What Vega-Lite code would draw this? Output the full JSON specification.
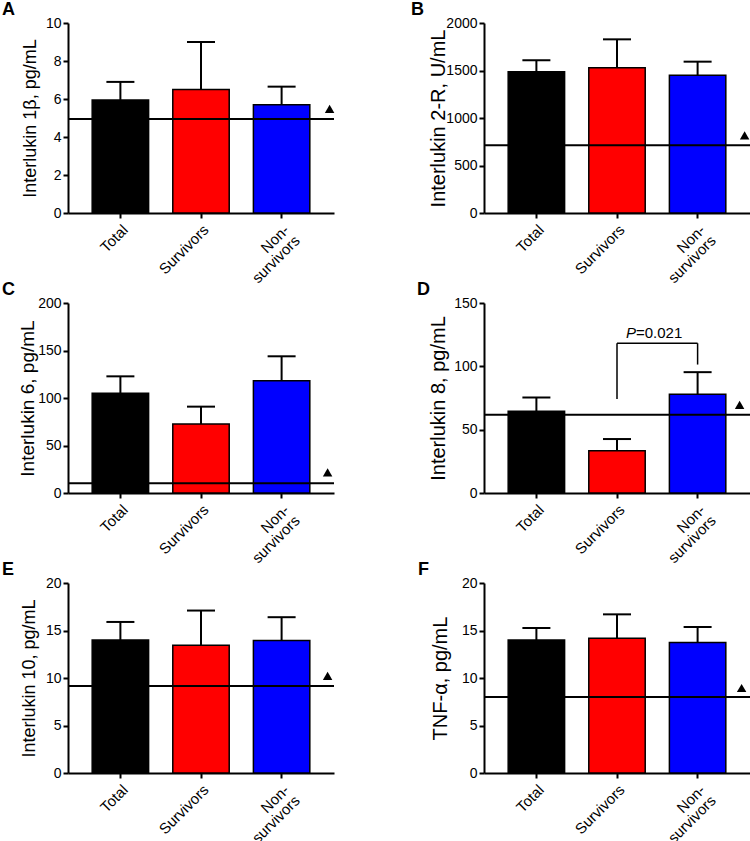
{
  "$schema": "https://vega.github.io/schema/vega-lite/v6.json",
  "autosize": {"type": "pad"},
  "padding": {"left": 2, "top": 1, "right": 0, "bottom": 0},
  "background": "white",
  "bounds": "flush",
  "columns": 2,
  "spacing": {"row": 90, "column": 150},
  "config": {
    "font": "Liberation Sans",
    "view": {"stroke": null},
    "axis": {"grid": false, "domainColor": "black", "domainWidth": 2, "tickColor": "black", "tickWidth": 2, "tickSize": 5, "labelColor": "black", "titleColor": "black", "labelFont": "Liberation Sans", "titleFont": "Liberation Sans", "labelFontSize": 14, "titleFontWeight": "normal", "labelPadding": 2, "labelOverlap": false},
    "axisX": {"labelAngle": -45, "labelFontSize": 15, "labelPadding": 4, "labelLineHeight": 15},
    "title": {"anchor": "start", "frame": "group", "fontSize": 18, "fontWeight": "bold", "font": "Liberation Sans", "color": "black", "baseline": "alphabetic", "offset": -3}
  },
  "concat": [
    {
      "width": 266, "height": 190,
      "title": {"text": "A", "dx": -66},
      "data": {"values": [
        {"group": "Total", "mean": 5.95, "upper": 6.9},
        {"group": "Survivors", "mean": 6.5, "upper": 9.0},
        {"group": "Non-survivors", "mean": 5.7, "upper": 6.65}
      ]},
      "layer": [
        {"mark": {"type": "bar", "stroke": "black", "strokeWidth": 1.5},
         "encoding": {
           "x": {"field": "group", "type": "nominal", "title": null, "scale": {"domain": ["Total", "Survivors", "Non-survivors"], "paddingInner": 0.3, "paddingOuter": 0.3}, "axis": {"labelExpr": "datum.value == 'Non-survivors' ? ['Non-', 'survivors'] : datum.value"}},
           "y": {"field": "mean", "type": "quantitative", "title": "Interlukin 1β, pg/mL", "scale": {"domain": [0, 10]}, "axis": {"values": [0, 2, 4, 6, 8, 10], "tickCount": 6, "labelOverlap": false, "titleFontSize": 18, "titlePadding": 6}},
           "fill": {"field": "group", "type": "nominal", "scale": {"domain": ["Total", "Survivors", "Non-survivors"], "range": ["#000000", "#ff0000", "#0000ff"]}, "legend": null}
         }},
        {"mark": {"type": "rule", "strokeWidth": 2, "color": "black"},
         "encoding": {"x": {"field": "group", "type": "nominal", "title": null}, "y": {"field": "mean", "type": "quantitative", "title": "Interlukin 1β, pg/mL", "scale": {"domain": [0, 10]}}, "y2": {"field": "upper"}}},
        {"mark": {"type": "tick", "size": 28, "thickness": 2, "color": "black", "opacity": 1},
         "encoding": {"x": {"field": "group", "type": "nominal", "title": null}, "y": {"field": "upper", "type": "quantitative", "title": "Interlukin 1β, pg/mL", "scale": {"domain": [0, 10]}}}},
        {"data": {"values": [{"ref": 4.95}]},
         "mark": {"type": "rule", "strokeWidth": 2, "color": "black"},
         "encoding": {"y": {"field": "ref", "type": "quantitative", "title": "Interlukin 1β, pg/mL", "scale": {"domain": [0, 10]}}}},
        {"data": {"values": [{"ref": 4.95}]},
         "mark": {"type": "point", "shape": "triangle-up", "filled": true, "color": "black", "opacity": 1, "size": 90, "xOffset": 48, "yOffset": -10},
         "encoding": {"x": {"datum": "Non-survivors", "type": "nominal", "title": null}, "y": {"field": "ref", "type": "quantitative", "title": "Interlukin 1β, pg/mL", "scale": {"domain": [0, 10]}}}}
      ]
    },
    {
      "width": 266, "height": 190,
      "title": {"text": "B", "dx": -73},
      "data": {"values": [
        {"group": "Total", "mean": 1487, "upper": 1607},
        {"group": "Survivors", "mean": 1530, "upper": 1828},
        {"group": "Non-survivors", "mean": 1449, "upper": 1593}
      ]},
      "layer": [
        {"mark": {"type": "bar", "stroke": "black", "strokeWidth": 1.5},
         "encoding": {
           "x": {"field": "group", "type": "nominal", "title": null, "scale": {"domain": ["Total", "Survivors", "Non-survivors"], "paddingInner": 0.3, "paddingOuter": 0.3}, "axis": {"labelExpr": "datum.value == 'Non-survivors' ? ['Non-', 'survivors'] : datum.value"}},
           "y": {"field": "mean", "type": "quantitative", "title": "Interlukin 2-R, U/mL", "scale": {"domain": [0, 2000]}, "axis": {"values": [0, 500, 1000, 1500, 2000], "format": "d", "titleFontSize": 20, "titlePadding": -3}},
           "fill": {"field": "group", "type": "nominal", "scale": {"domain": ["Total", "Survivors", "Non-survivors"], "range": ["#000000", "#ff0000", "#0000ff"]}, "legend": null}
         }},
        {"mark": {"type": "rule", "strokeWidth": 2, "color": "black"},
         "encoding": {"x": {"field": "group", "type": "nominal", "title": null}, "y": {"field": "mean", "type": "quantitative", "title": "Interlukin 2-R, U/mL", "scale": {"domain": [0, 2000]}}, "y2": {"field": "upper"}}},
        {"mark": {"type": "tick", "size": 28, "thickness": 2, "color": "black", "opacity": 1},
         "encoding": {"x": {"field": "group", "type": "nominal", "title": null}, "y": {"field": "upper", "type": "quantitative", "title": "Interlukin 2-R, U/mL", "scale": {"domain": [0, 2000]}}}},
        {"data": {"values": [{"ref": 712}]},
         "mark": {"type": "rule", "strokeWidth": 2, "color": "black"},
         "encoding": {"y": {"field": "ref", "type": "quantitative", "title": "Interlukin 2-R, U/mL", "scale": {"domain": [0, 2000]}}}},
        {"data": {"values": [{"ref": 712}]},
         "mark": {"type": "point", "shape": "triangle-up", "filled": true, "color": "black", "opacity": 1, "size": 90, "xOffset": 47, "yOffset": -10},
         "encoding": {"x": {"datum": "Non-survivors", "type": "nominal", "title": null}, "y": {"field": "ref", "type": "quantitative", "title": "Interlukin 2-R, U/mL", "scale": {"domain": [0, 2000]}}}}
      ]
    },
    {
      "width": 266, "height": 190,
      "title": {"text": "C", "dx": -66},
      "data": {"values": [
        {"group": "Total", "mean": 104.9, "upper": 122.8},
        {"group": "Survivors", "mean": 72.6, "upper": 90.9},
        {"group": "Non-survivors", "mean": 118.2, "upper": 143.9}
      ]},
      "layer": [
        {"mark": {"type": "bar", "stroke": "black", "strokeWidth": 1.5},
         "encoding": {
           "x": {"field": "group", "type": "nominal", "title": null, "scale": {"domain": ["Total", "Survivors", "Non-survivors"], "paddingInner": 0.3, "paddingOuter": 0.3}, "axis": {"labelExpr": "datum.value == 'Non-survivors' ? ['Non-', 'survivors'] : datum.value"}},
           "y": {"field": "mean", "type": "quantitative", "title": "Interlukin 6, pg/mL", "scale": {"domain": [0, 200]}, "axis": {"values": [0, 50, 100, 150, 200], "format": "d", "titleFontSize": 19, "titlePadding": 0}},
           "fill": {"field": "group", "type": "nominal", "scale": {"domain": ["Total", "Survivors", "Non-survivors"], "range": ["#000000", "#ff0000", "#0000ff"]}, "legend": null}
         }},
        {"mark": {"type": "rule", "strokeWidth": 2, "color": "black"},
         "encoding": {"x": {"field": "group", "type": "nominal", "title": null}, "y": {"field": "mean", "type": "quantitative", "title": "Interlukin 6, pg/mL", "scale": {"domain": [0, 200]}}, "y2": {"field": "upper"}}},
        {"mark": {"type": "tick", "size": 28, "thickness": 2, "color": "black", "opacity": 1},
         "encoding": {"x": {"field": "group", "type": "nominal", "title": null}, "y": {"field": "upper", "type": "quantitative", "title": "Interlukin 6, pg/mL", "scale": {"domain": [0, 200]}}}},
        {"data": {"values": [{"ref": 10.2}]},
         "mark": {"type": "rule", "strokeWidth": 2, "color": "black"},
         "encoding": {"y": {"field": "ref", "type": "quantitative", "title": "Interlukin 6, pg/mL", "scale": {"domain": [0, 200]}}}},
        {"data": {"values": [{"ref": 10.2}]},
         "mark": {"type": "point", "shape": "triangle-up", "filled": true, "color": "black", "opacity": 1, "size": 90, "xOffset": 46, "yOffset": -11},
         "encoding": {"x": {"datum": "Non-survivors", "type": "nominal", "title": null}, "y": {"field": "ref", "type": "quantitative", "title": "Interlukin 6, pg/mL", "scale": {"domain": [0, 200]}}}}
      ]
    },
    {
      "width": 266, "height": 190,
      "title": {"text": "D", "dx": -67},
      "data": {"values": [
        {"group": "Total", "mean": 64.6, "upper": 75.4},
        {"group": "Survivors", "mean": 33.4, "upper": 42.6},
        {"group": "Non-survivors", "mean": 78.0, "upper": 95.4}
      ]},
      "layer": [
        {"mark": {"type": "bar", "stroke": "black", "strokeWidth": 1.5},
         "encoding": {
           "x": {"field": "group", "type": "nominal", "title": null, "scale": {"domain": ["Total", "Survivors", "Non-survivors"], "paddingInner": 0.3, "paddingOuter": 0.3}, "axis": {"labelExpr": "datum.value == 'Non-survivors' ? ['Non-', 'survivors'] : datum.value"}},
           "y": {"field": "mean", "type": "quantitative", "title": "Interlukin 8, pg/mL", "scale": {"domain": [0, 150]}, "axis": {"values": [0, 50, 100, 150], "format": "d", "titleFontSize": 20, "titlePadding": 5}},
           "fill": {"field": "group", "type": "nominal", "scale": {"domain": ["Total", "Survivors", "Non-survivors"], "range": ["#000000", "#ff0000", "#0000ff"]}, "legend": null}
         }},
        {"mark": {"type": "rule", "strokeWidth": 2, "color": "black"},
         "encoding": {"x": {"field": "group", "type": "nominal", "title": null}, "y": {"field": "mean", "type": "quantitative", "title": "Interlukin 8, pg/mL", "scale": {"domain": [0, 150]}}, "y2": {"field": "upper"}}},
        {"mark": {"type": "tick", "size": 28, "thickness": 2, "color": "black", "opacity": 1},
         "encoding": {"x": {"field": "group", "type": "nominal", "title": null}, "y": {"field": "upper", "type": "quantitative", "title": "Interlukin 8, pg/mL", "scale": {"domain": [0, 150]}}}},
        {"data": {"values": [{"ref": 61.7}]},
         "mark": {"type": "rule", "strokeWidth": 2, "color": "black"},
         "encoding": {"y": {"field": "ref", "type": "quantitative", "title": "Interlukin 8, pg/mL", "scale": {"domain": [0, 150]}}}},
        {"data": {"values": [{"ref": 61.7}]},
         "mark": {"type": "point", "shape": "triangle-up", "filled": true, "color": "black", "opacity": 1, "size": 90, "xOffset": 42, "yOffset": -10},
         "encoding": {"x": {"datum": "Non-survivors", "type": "nominal", "title": null}, "y": {"field": "ref", "type": "quantitative", "title": "Interlukin 8, pg/mL", "scale": {"domain": [0, 150]}}}},
        {"data": {"values": [{"from": "Survivors", "to": "Non-survivors", "y": 118.2}]},
         "mark": {"type": "rule", "strokeWidth": 1.5, "color": "black"},
         "encoding": {"x": {"field": "from", "type": "nominal", "title": null}, "x2": {"field": "to"}, "y": {"field": "y", "type": "quantitative", "title": "Interlukin 8, pg/mL", "scale": {"domain": [0, 150]}}}},
        {"data": {"values": [{"g": "Survivors", "lo": 74.3, "hi": 118.2}, {"g": "Non-survivors", "lo": 101.4, "hi": 118.2}]},
         "mark": {"type": "rule", "strokeWidth": 1.5, "color": "black"},
         "encoding": {"x": {"field": "g", "type": "nominal", "title": null}, "y": {"field": "lo", "type": "quantitative", "title": "Interlukin 8, pg/mL", "scale": {"domain": [0, 150]}}, "y2": {"field": "hi"}}},
        {"data": {"values": [{"g": "Survivors", "y": 122, "p": "P", "v": "=0.021"}]},
         "mark": {"type": "text", "align": "right", "baseline": "alphabetic", "fontStyle": "italic", "fontSize": 15, "color": "black", "xOffset": 19},
         "encoding": {"x": {"field": "g", "type": "nominal", "title": null}, "y": {"field": "y", "type": "quantitative", "title": "Interlukin 8, pg/mL", "scale": {"domain": [0, 150]}}, "text": {"field": "p"}}},
        {"data": {"values": [{"g": "Survivors", "y": 122, "p": "P", "v": "=0.021"}]},
         "mark": {"type": "text", "align": "left", "baseline": "alphabetic", "fontSize": 15, "color": "black", "xOffset": 19},
         "encoding": {"x": {"field": "g", "type": "nominal", "title": null}, "y": {"field": "y", "type": "quantitative", "title": "Interlukin 8, pg/mL", "scale": {"domain": [0, 150]}}, "text": {"field": "v"}}}
      ]
    },
    {
      "width": 266, "height": 190,
      "title": {"text": "E", "dx": -66},
      "data": {"values": [
        {"group": "Total", "mean": 14.0, "upper": 15.9},
        {"group": "Survivors", "mean": 13.44, "upper": 17.1},
        {"group": "Non-survivors", "mean": 13.96, "upper": 16.4}
      ]},
      "layer": [
        {"mark": {"type": "bar", "stroke": "black", "strokeWidth": 1.5},
         "encoding": {
           "x": {"field": "group", "type": "nominal", "title": null, "scale": {"domain": ["Total", "Survivors", "Non-survivors"], "paddingInner": 0.3, "paddingOuter": 0.3}, "axis": {"labelExpr": "datum.value == 'Non-survivors' ? ['Non-', 'survivors'] : datum.value"}},
           "y": {"field": "mean", "type": "quantitative", "title": "Interlukin 10, pg/mL", "scale": {"domain": [0, 20]}, "axis": {"values": [0, 5, 10, 15, 20], "format": "d", "titleFontSize": 18, "titlePadding": 7}},
           "fill": {"field": "group", "type": "nominal", "scale": {"domain": ["Total", "Survivors", "Non-survivors"], "range": ["#000000", "#ff0000", "#0000ff"]}, "legend": null}
         }},
        {"mark": {"type": "rule", "strokeWidth": 2, "color": "black"},
         "encoding": {"x": {"field": "group", "type": "nominal", "title": null}, "y": {"field": "mean", "type": "quantitative", "title": "Interlukin 10, pg/mL", "scale": {"domain": [0, 20]}}, "y2": {"field": "upper"}}},
        {"mark": {"type": "tick", "size": 28, "thickness": 2, "color": "black", "opacity": 1},
         "encoding": {"x": {"field": "group", "type": "nominal", "title": null}, "y": {"field": "upper", "type": "quantitative", "title": "Interlukin 10, pg/mL", "scale": {"domain": [0, 20]}}}},
        {"data": {"values": [{"ref": 9.16}]},
         "mark": {"type": "rule", "strokeWidth": 2, "color": "black"},
         "encoding": {"y": {"field": "ref", "type": "quantitative", "title": "Interlukin 10, pg/mL", "scale": {"domain": [0, 20]}}}},
        {"data": {"values": [{"ref": 9.16}]},
         "mark": {"type": "point", "shape": "triangle-up", "filled": true, "color": "black", "opacity": 1, "size": 90, "xOffset": 46, "yOffset": -10},
         "encoding": {"x": {"datum": "Non-survivors", "type": "nominal", "title": null}, "y": {"field": "ref", "type": "quantitative", "title": "Interlukin 10, pg/mL", "scale": {"domain": [0, 20]}}}}
      ]
    },
    {
      "width": 266, "height": 190,
      "title": {"text": "F", "dx": -66},
      "data": {"values": [
        {"group": "Total", "mean": 14.0, "upper": 15.26},
        {"group": "Survivors", "mean": 14.18, "upper": 16.7},
        {"group": "Non-survivors", "mean": 13.75, "upper": 15.37}
      ]},
      "layer": [
        {"mark": {"type": "bar", "stroke": "black", "strokeWidth": 1.5},
         "encoding": {
           "x": {"field": "group", "type": "nominal", "title": null, "scale": {"domain": ["Total", "Survivors", "Non-survivors"], "paddingInner": 0.3, "paddingOuter": 0.3}, "axis": {"labelExpr": "datum.value == 'Non-survivors' ? ['Non-', 'survivors'] : datum.value"}},
           "y": {"field": "mean", "type": "quantitative", "title": "TNF-α, pg/mL", "scale": {"domain": [0, 20]}, "axis": {"values": [0, 5, 10, 15, 20], "format": "d", "titleFontSize": 20, "titlePadding": 11}},
           "fill": {"field": "group", "type": "nominal", "scale": {"domain": ["Total", "Survivors", "Non-survivors"], "range": ["#000000", "#ff0000", "#0000ff"]}, "legend": null}
         }},
        {"mark": {"type": "rule", "strokeWidth": 2, "color": "black"},
         "encoding": {"x": {"field": "group", "type": "nominal", "title": null}, "y": {"field": "mean", "type": "quantitative", "title": "TNF-α, pg/mL", "scale": {"domain": [0, 20]}}, "y2": {"field": "upper"}}},
        {"mark": {"type": "tick", "size": 28, "thickness": 2, "color": "black", "opacity": 1},
         "encoding": {"x": {"field": "group", "type": "nominal", "title": null}, "y": {"field": "upper", "type": "quantitative", "title": "TNF-α, pg/mL", "scale": {"domain": [0, 20]}}}},
        {"data": {"values": [{"ref": 8.0}]},
         "mark": {"type": "rule", "strokeWidth": 2, "color": "black"},
         "encoding": {"y": {"field": "ref", "type": "quantitative", "title": "TNF-α, pg/mL", "scale": {"domain": [0, 20]}}}},
        {"data": {"values": [{"ref": 8.0}]},
         "mark": {"type": "point", "shape": "triangle-up", "filled": true, "color": "black", "opacity": 1, "size": 90, "xOffset": 44, "yOffset": -9},
         "encoding": {"x": {"datum": "Non-survivors", "type": "nominal", "title": null}, "y": {"field": "ref", "type": "quantitative", "title": "TNF-α, pg/mL", "scale": {"domain": [0, 20]}}}}
      ]
    }
  ]
}
